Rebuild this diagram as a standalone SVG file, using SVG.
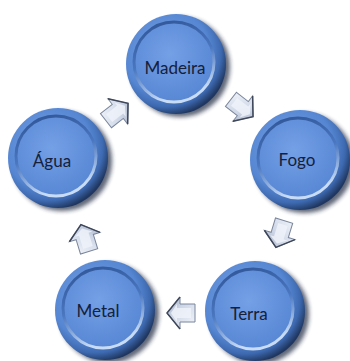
<svg xmlns="http://www.w3.org/2000/svg" width="350" height="361" viewBox="0 0 350 361">
<defs>
  <radialGradient id="rim" cx="0.4" cy="0.38" r="0.64">
    <stop offset="0" stop-color="#79a3e6"/>
    <stop offset="0.68" stop-color="#5686d2"/>
    <stop offset="0.86" stop-color="#3d69b0"/>
    <stop offset="1" stop-color="#1f3760"/>
  </radialGradient>
  <radialGradient id="face" cx="0.45" cy="0.4" r="0.6">
    <stop offset="0" stop-color="#74a0e6"/>
    <stop offset="1" stop-color="#5887d4"/>
  </radialGradient>
  <linearGradient id="faceStroke" x1="0" y1="0" x2="0.3" y2="1">
    <stop offset="0" stop-color="#2d5394"/>
    <stop offset="0.55" stop-color="#4a77c0"/>
    <stop offset="1" stop-color="#c8dcf6"/>
  </linearGradient>
  <linearGradient id="arrowFill" x1="0" y1="0" x2="1" y2="1">
    <stop offset="0" stop-color="#f4f7fc"/>
    <stop offset="0.6" stop-color="#cdd6e6"/>
    <stop offset="1" stop-color="#9ea9bd"/>
  </linearGradient>
  <filter id="sh" x="-20%" y="-20%" width="140%" height="140%">
    <feGaussianBlur stdDeviation="2"/>
  </filter>
  <g id="btn">
    <circle cx="4" cy="3" r="50" fill="#1b2740" opacity="0.7" filter="url(#sh)"/>
    <circle cx="0" cy="0" r="50" fill="url(#rim)"/>
    <circle cx="-2" cy="-2" r="40" fill="url(#face)" stroke="url(#faceStroke)" stroke-width="3"/>
  </g>
  <g id="arr">
    <polygon points="-14,-9 1,-9 1,-16 14,0 1,16 1,9 -14,9" fill="url(#arrowFill)" stroke="#7b869c" stroke-width="1"/>
    <polygon points="-10,-5 4,-5 4,-9 10,0 4,9 4,5 -10,5" fill="#eef2f9" opacity="0.85"/>
    <polyline points="1,-16 14,0 1,16" fill="none" stroke="#3e475a" stroke-width="1.5"/>
  </g>
</defs>
<style>
  .lbl { font-family: Lato, "Open Sans", "Liberation Sans", sans-serif; font-size: 17px; fill: #15213a; text-anchor: middle; }
</style>
<g id="connectors">
  <use href="#arr" transform="translate(242,108) rotate(38)"/>
  <use href="#arr" transform="translate(280,234) rotate(107)"/>
  <use href="#arr" transform="translate(181,313) rotate(180)"/>
  <use href="#arr" transform="translate(85,238) rotate(253)"/>
  <use href="#arr" transform="translate(117,112) rotate(-38)"/>
</g>
<g id="madeira">
  <use href="#btn" transform="translate(176,64)"/>
  <text class="lbl" x="175" y="74">Madeira</text>
</g>
<g id="fogo">
  <use href="#btn" transform="translate(300,160)"/>
  <text class="lbl" x="297" y="166">Fogo</text>
</g>
<g id="terra">
  <use href="#btn" transform="translate(255,311)"/>
  <text class="lbl" x="249" y="320">Terra</text>
</g>
<g id="metal">
  <use href="#btn" transform="translate(105,310)"/>
  <text class="lbl" x="98" y="317">Metal</text>
</g>
<g id="agua">
  <use href="#btn" transform="translate(58,158)"/>
  <text class="lbl" x="52" y="167">Água</text>
</g>
</svg>
